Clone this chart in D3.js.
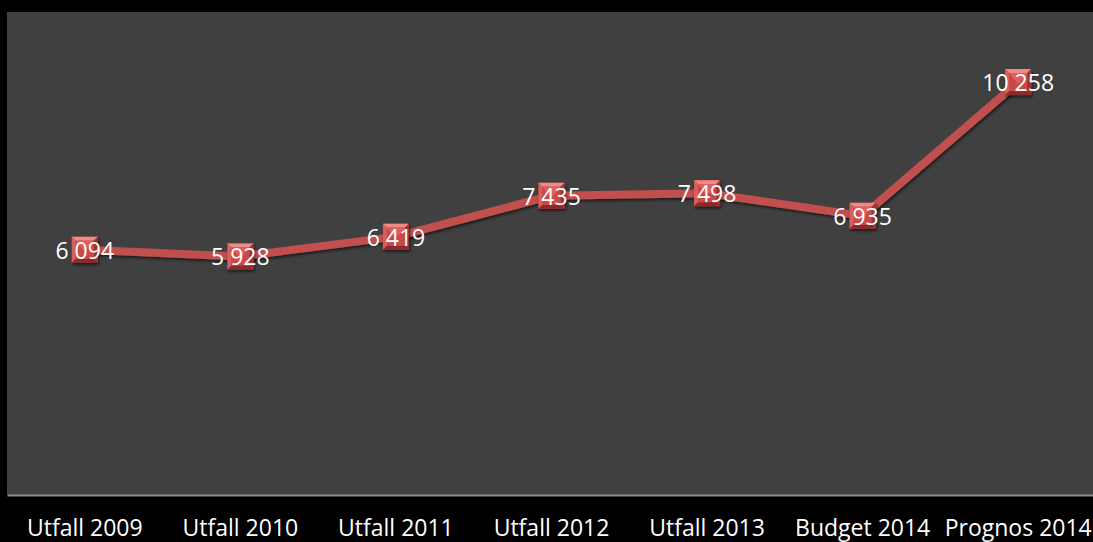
<!DOCTYPE html>
<html><head><meta charset="utf-8">
<script src="https://cdn.jsdelivr.net/npm/d3@7"></script>
<style>html,body{margin:0;padding:0;background:#000;overflow:hidden}</style>
</head><body><svg id="c" width="1093" height="542"></svg>
<script>
const categories = ["Utfall 2009","Utfall 2010","Utfall 2011","Utfall 2012","Utfall 2013","Budget 2014","Prognos 2014"];
const values = [6094, 5928, 6419, 7435, 7498, 6935, 10258];
const yDomain = [0, 12000];

const W = 1093, H = 542;
const plot = {left: 7, top: 12, right: 1096, bottom: 495};
const FONT = "'Open Sans', 'Noto Sans', sans-serif";
const svg = d3.select("#c");
svg.append("rect").attr("width", W).attr("height", H).attr("fill", "#000");
svg.append("rect").attr("x", plot.left).attr("y", plot.top)
  .attr("width", plot.right - plot.left).attr("height", plot.bottom - plot.top).attr("fill", "#404040");

const x = d3.scaleBand().domain(categories).range([plot.left, plot.right]);
const y = d3.scaleLinear().domain(yDomain).range([plot.bottom, plot.top]);
const cx = d => x(d) + x.bandwidth() / 2;

// axis
const ax = svg.append("g").attr("transform", `translate(0,${plot.bottom})`)
  .call(d3.axisBottom(x).tickSize(0).tickPadding(25));
ax.select(".domain").attr("stroke", "#8c8c8c").attr("stroke-width", 2);
ax.selectAll("text").attr("fill", "#fff").attr("font-family", FONT).attr("font-size", "23px");

const data = categories.map((c, i) => ({c, v: values[i]}));

// shadow filter
const defs = svg.append("defs");
const f = defs.append("filter").attr("id", "sh").attr("x", "-30%").attr("y", "-30%").attr("width", "160%").attr("height", "160%");
f.append("feGaussianBlur").attr("in", "SourceAlpha").attr("stdDeviation", 1.5);
f.append("feOffset").attr("dx", 1).attr("dy", 2).attr("result", "ob");
f.append("feComponentTransfer").append("feFuncA").attr("type", "linear").attr("slope", 0.6);
const m = f.append("feMerge"); m.append("feMergeNode"); m.append("feMergeNode").attr("in", "SourceGraphic");

svg.append("path").datum(data)
  .attr("d", d3.line().x(d => cx(d.c)).y(d => y(d.v)))
  .attr("fill", "none").attr("stroke", "#c0504d").attr("stroke-width", 8)
  .attr("stroke-linejoin", "round").attr("filter", "url(#sh)");

// markers (beveled squares)
const s = 13, b = 4;
const mk = svg.selectAll(".mk").data(data).enter().append("g")
  .attr("transform", d => `translate(${cx(d.c)},${y(d.v)})`).attr("filter", "url(#sh)");
mk.append("rect").attr("x", -s).attr("y", -s).attr("width", 2*s).attr("height", 2*s).attr("fill", "#b8413e");
mk.append("polygon").attr("points", `${-s},${-s} ${s},${-s} ${s-b},${-s+b} ${-s+b},${-s+b}`).attr("fill", "#f08a86");
mk.append("polygon").attr("points", `${-s},${-s} ${-s+b},${-s+b} ${-s+b},${s-b} ${-s},${s}`).attr("fill", "#d5605c");
mk.append("polygon").attr("points", `${s},${-s} ${s-b},${-s+b} ${s-b},${s-b} ${s},${s}`).attr("fill", "#9c3431");
mk.append("polygon").attr("points", `${-s},${s} ${s},${s} ${s-b},${s-b} ${-s+b},${s-b}`).attr("fill", "#8a2c2a");
mk.append("rect").attr("x", -s+b).attr("y", -s+b).attr("width", 2*(s-b)).attr("height", 2*(s-b)).attr("fill", "#c94a47");
mk.append("polygon").attr("points", `${-s+b},${-s+b} ${s-b},${-s+b} 0,${2}`).attr("fill", "#e0615d");

const fmt = v => d3.format(",")(v).replace(/,/g, " ");
svg.selectAll(".lbl").data(data).enter().append("text")
  .attr("x", d => cx(d.c)).attr("y", d => y(d.v))
  .attr("text-anchor", "middle").attr("dominant-baseline", "central")
  .attr("fill", "#fff").attr("font-family", FONT).attr("font-size", "23px")
  .text(d => fmt(d.v));
</script></body></html>
